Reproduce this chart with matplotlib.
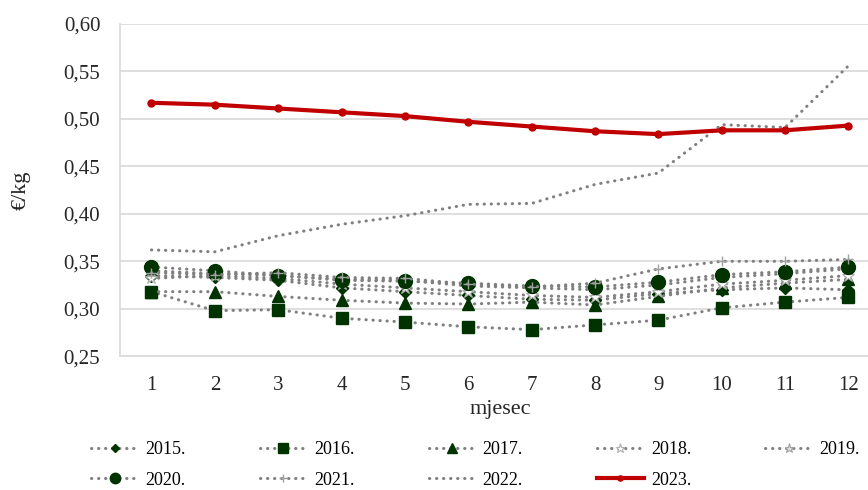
import matplotlib.pyplot as plt
from matplotlib.ticker import FuncFormatter

plt.rcParams['font.family'] = ['Liberation Serif', 'DejaVu Serif']

months = [1, 2, 3, 4, 5, 6, 7, 8, 9, 10, 11, 12]

y2015 = [0.335, 0.333, 0.330, 0.322, 0.318, 0.314, 0.310, 0.309, 0.316, 0.320, 0.322, 0.320]
y2016 = [0.318, 0.298, 0.299, 0.290, 0.286, 0.281, 0.278, 0.283, 0.288, 0.301, 0.307, 0.312]
y2017 = [0.318, 0.318, 0.313, 0.309, 0.306, 0.305, 0.307, 0.304, 0.313, 0.322, 0.327, 0.331]
y2018 = [0.332, 0.335, 0.332, 0.326, 0.322, 0.318, 0.314, 0.312, 0.318, 0.326, 0.330, 0.335]
y2019 = [0.340, 0.337, 0.335, 0.331, 0.330, 0.324, 0.322, 0.320, 0.325, 0.333, 0.337, 0.342]
y2020 = [0.344, 0.340, 0.335, 0.330, 0.329, 0.327, 0.324, 0.323, 0.328, 0.336, 0.339, 0.344]
y2021 = [0.338, 0.336, 0.338, 0.333, 0.332, 0.326, 0.323, 0.327, 0.342, 0.350, 0.350, 0.352]
y2022 = [0.362, 0.360, 0.377, 0.389, 0.398, 0.410, 0.411, 0.431, 0.443, 0.494, 0.491, 0.556]
y2023 = [0.517, 0.515, 0.511, 0.507, 0.503, 0.497, 0.492, 0.487, 0.484, 0.488, 0.488, 0.493]

fig = plt.figure(figsize=(8.68, 4.9), dpi=100)
ax = fig.add_axes([0.138, 0.273, 0.876, 0.678])

grey = '#808080'
green = '#003300'
dots = (0, (0.1, 2.2))

def dotted(y, label, **kw):
    return ax.plot(months, y, color=grey, lw=2.2, linestyle=dots, dash_capstyle='round',
                   label=label, **kw)[0]

h15 = dotted(y2015, '2015.', marker='D', ms=6, mfc=green, mec=green)
h16 = dotted(y2016, '2016.', marker='s', ms=9, mfc=green, mec=green)
h17 = dotted(y2017, '2017.', marker='^', ms=9, mfc=green, mec=green)
h18 = dotted(y2018, '2018.', marker='*', ms=9, mfc='white', mec='#b0b0b0', mew=0.8)
h19 = dotted(y2019, '2019.', marker='*', ms=9, mfc='#e0e0e0', mec='#a0a0a0', mew=0.8)
h20 = dotted(y2020, '2020.', marker='o', ms=10, mfc=green, mec=green)
h21 = dotted(y2021, '2021.', marker='+', ms=7, mfc=grey, mec='#a0a0a0', mew=1)
h22 = dotted(y2022, '2022.')
h23 = ax.plot(months, y2023, color='#c00000', lw=3, marker='o', ms=5, label='2023.')[0]

ax.set_xlim(0.5, 12.5)
ax.set_ylim(0.25, 0.60)
ax.set_xticks(months)
ax.set_yticks([0.25, 0.30, 0.35, 0.40, 0.45, 0.50, 0.55, 0.60])
ax.yaxis.set_major_formatter(FuncFormatter(lambda v, p: f'{v:.2f}'.replace('.', ',')))
ax.tick_params(length=0, labelsize=15, colors='#262626')
ax.tick_params(axis='x', pad=14)
ax.tick_params(axis='y', pad=14)
ax.grid(axis='y', color='#d9d9d9', lw=1.2)
ax.set_axisbelow(True)
for s in ['top', 'right']:
    ax.spines[s].set_visible(False)
ax.spines['left'].set_color('#d9d9d9')
ax.spines['bottom'].set_color('#d9d9d9')
ax.spines['left'].set_linewidth(1.2)
ax.spines['bottom'].set_linewidth(1.2)

ax.set_xlabel('mjesec', fontsize=16, color='#262626', labelpad=4)
ax.set_ylabel('€/kg', fontsize=16, color='#262626', labelpad=24)

# legend is filled column by column, so interleave the two rows
order = [h15, h20, h16, h21, h17, h22, h18, h23, h19]
fig.legend(handles=order, loc='center', bbox_to_anchor=(0.548, 0.051), ncol=5,
           frameon=False, fontsize=13, handlelength=2.6, handletextpad=0.4,
           columnspacing=4.1, labelspacing=0.75, markerscale=0.75)

fig.savefig('out.png', dpi=100)
